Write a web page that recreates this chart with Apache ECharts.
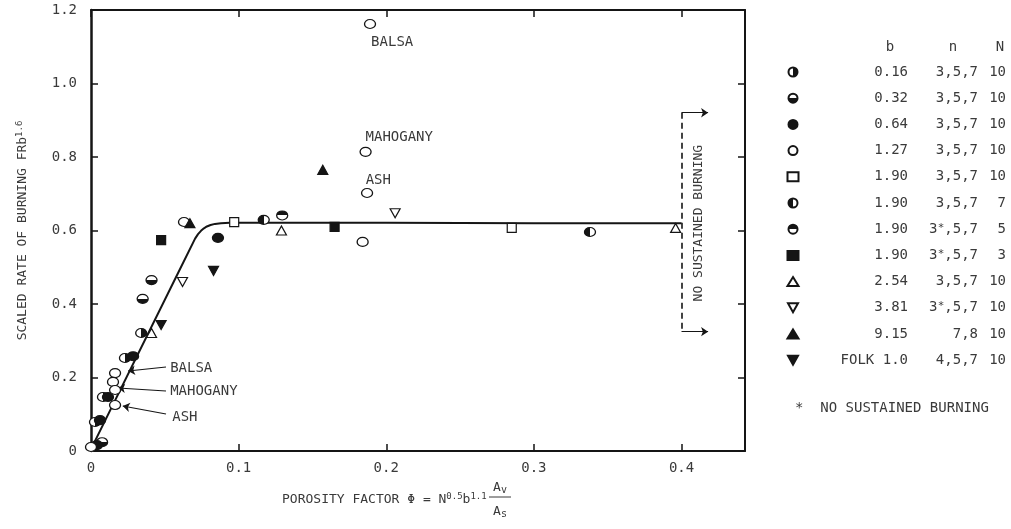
<!DOCTYPE html>
<html><head><meta charset="utf-8">
<script src="https://cdn.jsdelivr.net/npm/echarts@6/dist/echarts.min.js"></script>
<style>html,body{margin:0;padding:0;background:#fff}#c{width:1011px;height:529px}</style>
</head><body><div id="c"></div>
<script>
// ---------- data ----------
const xTickLabels = ['0','0.1','0.2','0.3','0.4'];
const yTickLabels = ['0','0.2','0.4','0.6','0.8','1.0','1.2'];

const s016   = [[0.034,0.321],[0.023,0.253],[0.0081,0.147],[0.0027,0.079]];
const s032   = [[0.041,0.465],[0.035,0.414],[0.0075,0.024]];
const s064   = [[0.086,0.580],[0.0285,0.258],[0.0115,0.147],[0.0061,0.084],[0.004,0.016]];
const s127   = [[0.063,0.623],[0.184,0.569],[0.189,1.162],[0.186,0.814],[0.187,0.702],[0.0163,0.212],[0.0149,0.188],[0.0163,0.166],[0.0163,0.125],[0.0,0.011]];
const s190   = [[0.097,0.623],[0.285,0.607]];
const s190n7 = [[0.338,0.596],[0.117,0.629]];
const s190n5 = [[0.1295,0.641]];
const s190n3 = [[0.0475,0.574],[0.165,0.610]];
const s254   = [[0.129,0.600],[0.041,0.321],[0.396,0.607]];
const s381   = [[0.206,0.647],[0.062,0.460]];
const s915   = [[0.157,0.765],[0.067,0.620]];
const sFolk  = [[0.083,0.490],[0.0475,0.343]];

const fitCurve = [[0,0.005],[0.0583,0.479],[0.0705,0.578],[0.0725,0.590],[0.0745,0.599],[0.0765,0.606],[0.0785,0.611],[0.081,0.615],[0.084,0.618],[0.088,0.620],[0.094,0.621],[0.1,0.621],[0.2,0.621],[0.3,0.620],[0.4,0.620]];

const legendB  = ['0.16','0.32','0.64','1.27','1.90','1.90','1.90','1.90','2.54','3.81','9.15','FOLK 1.0'];
const legendN  = ['3,5,7','3,5,7','3,5,7','3,5,7','3,5,7','3,5,7','3*,5,7','3*,5,7','3,5,7','3*,5,7','7,8','4,5,7'];
const legendNN = ['10','10','10','10','10','7','5','3','10','10','10','10'];

// annotations (data space)
const annLabels = [
  {t:'BALSA',    x:0.204,  y:1.113, align:'center'},
  {t:'MAHOGANY', x:0.2088, y:0.854, align:'center'},
  {t:'ASH',      x:0.1946, y:0.737, align:'center'},
  {t:'BALSA',    x:0.0536, y:0.226, align:'left'},
  {t:'MAHOGANY', x:0.0536, y:0.161, align:'left'},
  {t:'ASH',      x:0.0550, y:0.0925, align:'left'}
];
const annArrows = [
  [[0.0508,0.2286],[0.0251,0.2177]],
  [[0.0508,0.1633],[0.0183,0.1714]],
  [[0.0508,0.1007],[0.0215,0.1224]]
];
const bracketV = [[0.4,0.9205],[0.4,0.3247]];
const bracketArrows = [[[0.4,0.9205],[0.418,0.9205]],[[0.4,0.3247],[0.418,0.3247]]];
const bracketText = {t:'NO SUSTAINED BURNING', x:0.4115, y:0.62};

// ---------- styling ----------
const INK = '#151515';
const TXT = '#3a3a3a';
const MONO = '"DejaVu Sans Mono", "Liberation Mono", monospace';
function halfFill(x0,y0,x1,y1){
  return new echarts.graphic.LinearGradient(x0,y0,x1,y1,[
    {offset:0,color:INK},{offset:0.5,color:INK},{offset:0.5,color:'#fff'},{offset:1,color:'#fff'}]);
}
const DOWN_TRI = 'path://M0,0 L10,0 L5,9 Z';
const CIRC=[11,9], SQ=[9,9], TRI=[10,9];
const seriesDefs = [
  {name:'0.16',   data:s016,   symbol:'circle',   size:CIRC, color:halfFill(1,0,0,0)},
  {name:'0.32',   data:s032,   symbol:'circle',   size:CIRC, color:halfFill(0,1,0,0)},
  {name:'0.64',   data:s064,   symbol:'circle',   size:CIRC, color:INK},
  {name:'1.27',   data:s127,   symbol:'circle',   size:CIRC, color:'#fff'},
  {name:'1.90 a', data:s190,   symbol:'rect',     size:SQ,   color:'#fff'},
  {name:'1.90 b', data:s190n7, symbol:'circle',   size:CIRC, color:halfFill(0,0,1,0)},
  {name:'1.90 c', data:s190n5, symbol:'circle',   size:CIRC, color:halfFill(0,0,0,1)},
  {name:'1.90 d', data:s190n3, symbol:'rect',     size:SQ,   color:INK},
  {name:'2.54',   data:s254,   symbol:'triangle', size:TRI,  color:'#fff'},
  {name:'3.81',   data:s381,   symbol:DOWN_TRI,   size:TRI,  color:'#fff'},
  {name:'9.15',   data:s915,   symbol:'triangle', size:TRI,  color:INK},
  {name:'FOLK',   data:sFolk,  symbol:DOWN_TRI,   size:TRI,  color:INK}
];
const seriesNames = seriesDefs.map(d=>d.name);

function tickFmt(labels, step){
  return function(v){
    const k = Math.round(v/step);
    if (Math.abs(v - k*step) > 1e-6) return '';
    return labels[k] !== undefined ? labels[k] : '';
  };
}

const XMAX = 0.443, YMAX = 1.2;
const axisCommon = {
  axisLine:{show:true, onZero:false, lineStyle:{color:INK, width:2}},
  axisTick:{show:true, inside:true, length:7, lineStyle:{color:INK, width:1.5}},
  splitLine:{show:false}
};

const series = [{
  type:'line', name:'fit', data:fitCurve, showSymbol:false, symbol:'none',
  smooth:false, lineStyle:{color:INK, width:2, join:'round'}, z:2, silent:true
},{
  type:'lines', coordinateSystem:'cartesian2d', silent:true, z:2,
  symbol:['none','arrow'], symbolSize:7,
  lineStyle:{color:INK, width:1.2, opacity:1},
  data: annArrows.concat(bracketArrows).map(c=>({coords:c}))
},{
  type:'lines', coordinateSystem:'cartesian2d', silent:true, z:2,
  symbol:['none','none'],
  lineStyle:{color:INK, width:1.6, type:[6,4], opacity:1},
  data:[{coords:bracketV}]
}];
seriesDefs.forEach(d=>{
  series.push({
    type:'scatter', name:d.name, data:d.data, symbol:d.symbol, symbolSize:d.size, z:4,
    itemStyle:{color:d.color, borderColor:INK, borderWidth:1.2, opacity:1},
    emphasis:{disabled:true}
  });
});

const tok = (w, extra) => Object.assign({width:w, align:'right', fontFamily:MONO, fontSize:14, color:TXT, lineHeight:14}, extra||{});

const option = {
  animation:false,
  backgroundColor:'#fff',
  grid:{left:91, right:266, top:10, bottom:78, outerBoundsMode:'none', containLabel:false},
  xAxis:[
    Object.assign({type:'value', min:0, max:XMAX, interval:0.1, position:'bottom',
      axisLabel:{show:true, formatter:tickFmt(xTickLabels,0.1), color:TXT, fontFamily:MONO, fontSize:14, margin:10, showMaxLabel:false}
    }, axisCommon),
    Object.assign({type:'value', min:0, max:XMAX, interval:0.1, position:'top',
      axisLabel:{show:false}}, axisCommon)
  ],
  yAxis:[
    Object.assign({type:'value', min:0, max:YMAX, interval:0.2, position:'left',
      axisLabel:{show:true, formatter:tickFmt(yTickLabels,0.2), color:TXT, fontFamily:MONO, fontSize:14, margin:14},
      name:'SCALED RATE OF BURNING FRb{sup|1.6}', nameLocation:'middle', nameGap:60, nameRotate:90,
      nameTextStyle:{color:TXT, fontFamily:MONO, fontSize:13, lineHeight:16,
        rich:{sup:{fontFamily:MONO, fontSize:9, color:TXT, lineHeight:9, verticalAlign:'top'}}}
    }, axisCommon, {axisLine:{show:true, onZero:false, lineStyle:{color:INK, width:2.5}}}),
    Object.assign({type:'value', min:0, max:YMAX, interval:0.2, position:'right',
      axisLabel:{show:false}}, axisCommon)
  ],
  legend:{
    data:seriesNames, orient:'vertical', left:786.5, top:65, itemWidth:11, itemHeight:9, itemGap:12.2,
    selectedMode:false, padding:0,
    formatter:function(name){
      const i = seriesNames.indexOf(name);
      const n = legendN[i];
      let np;
      if (n.indexOf('*')>=0){ const p=n.split('*'); np='{nA|'+p[0]+'}{st|*}{nB|'+p[1]+'}'; }
      else np='{n|'+n+'}';
      return '{b|'+legendB[i]+'}'+np+'{N|'+legendNN[i]+'}';
    },
    textStyle:{color:TXT, fontFamily:MONO, fontSize:14, lineHeight:14,
      rich:{
        b:tok(104.5),
        n:tok(70),
        nA:tok(29.5),
        st:tok(6.8,{fontSize:11, lineHeight:9, verticalAlign:'top'}),
        nB:tok(33.7),
        N:tok(28)
      }}
  },
  series:series
};

const chart = echarts.init(document.getElementById('c'), null, {renderer:'canvas'});
chart.setOption(option);

function px(p){ return chart.convertToPixel({gridIndex:0}, p); }
const g = [];
annLabels.forEach(a=>{
  const p = px([a.x,a.y]);
  g.push({type:'text', x:p[0], y:p[1], silent:true,
    style:{text:a.t, fontFamily:MONO, fontSize:14, fill:TXT, align:a.align, verticalAlign:'middle'}});
});
(function(){
  const p = px([bracketText.x, bracketText.y]);
  g.push({type:'text', x:p[0], y:p[1], rotation:Math.PI/2, silent:true,
    style:{text:bracketText.t, fontFamily:MONO, fontSize:13, fill:TXT, align:'center', verticalAlign:'middle'}});
})();
// legend header and footnote
g.push({type:'text', x:890, y:47, silent:true, style:{text:'b', fontFamily:MONO, fontSize:14, fill:TXT, align:'center', verticalAlign:'middle'}});
g.push({type:'text', x:953, y:47, silent:true, style:{text:'n', fontFamily:MONO, fontSize:14, fill:TXT, align:'center', verticalAlign:'middle'}});
g.push({type:'text', x:1000, y:47, silent:true, style:{text:'N', fontFamily:MONO, fontSize:14, fill:TXT, align:'center', verticalAlign:'middle'}});
g.push({type:'text', x:795, y:408, silent:true, style:{text:'*  NO SUSTAINED BURNING', fontFamily:MONO, fontSize:14, fill:TXT, align:'left', verticalAlign:'middle'}});
// x-axis title
g.push({type:'text', x:282, y:500, silent:true, style:{
  text:'POROSITY FACTOR \u03A6 = N{sup|0.5}b{sup|1.1}', fontFamily:MONO, fontSize:13, fill:TXT, align:'left', verticalAlign:'middle',
  lineHeight:16,
  rich:{sup:{fontFamily:MONO, fontSize:9, fill:TXT, lineHeight:9, verticalAlign:'top'}}}});
g.push({type:'text', x:500, y:488, silent:true, style:{text:'A{sub|v}', fontFamily:MONO, fontSize:13, fill:TXT, align:'center', verticalAlign:'middle',
  lineHeight:14, rich:{sub:{fontFamily:MONO, fontSize:10, fill:TXT, lineHeight:10, verticalAlign:'bottom'}}}});
g.push({type:'line', silent:true, shape:{x1:489, y1:497, x2:511, y2:497}, style:{stroke:TXT, lineWidth:1}});
g.push({type:'text', x:500, y:512, silent:true, style:{text:'A{sub|s}', fontFamily:MONO, fontSize:13, fill:TXT, align:'center', verticalAlign:'middle',
  lineHeight:14, rich:{sub:{fontFamily:MONO, fontSize:10, fill:TXT, lineHeight:10, verticalAlign:'bottom'}}}});
chart.setOption({graphic:g});
</script>
</body></html>
